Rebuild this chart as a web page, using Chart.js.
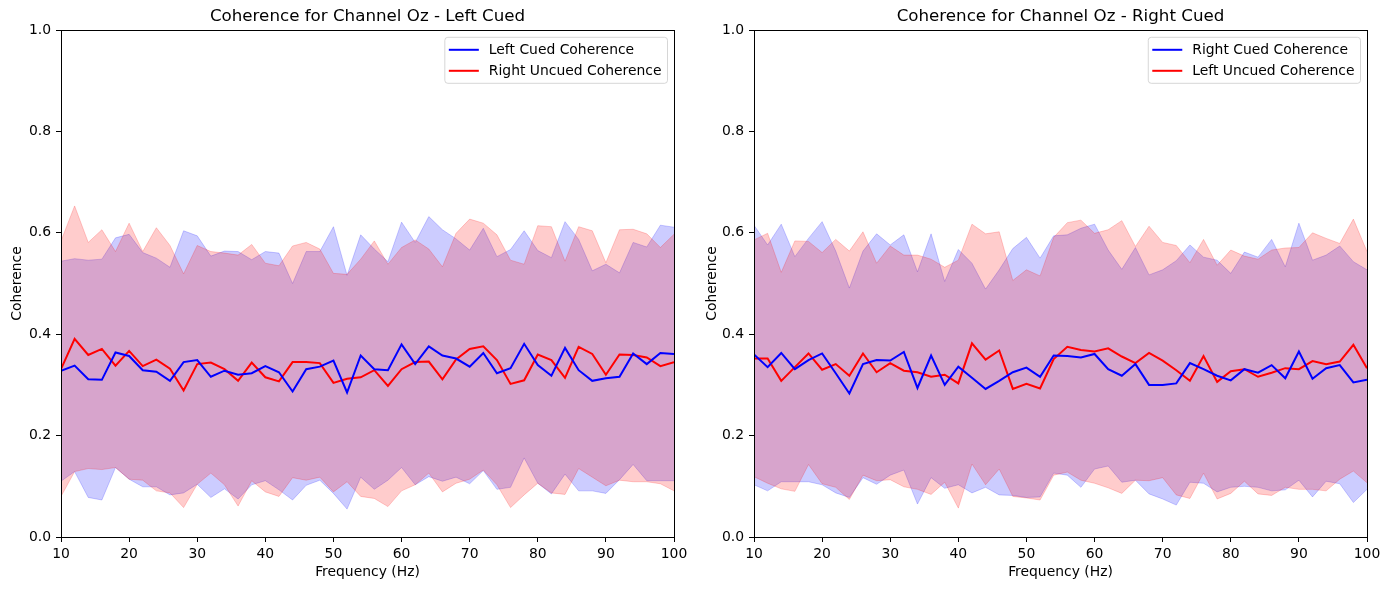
<!DOCTYPE html>
<html>
<head>
<meta charset="utf-8">
<script src="https://cdn.jsdelivr.net/npm/chart.js@4.4.0/dist/chart.umd.min.js"></script>
<style>
  html, body { margin: 0; padding: 0; background: #fff; }
  #wrap { position: relative; width: 1390px; height: 590px; }
  canvas { position: absolute; top: 0; }
</style>
</head>
<body>
<div id="wrap">
  <canvas id="c1" width="695" height="590" style="left:0px;width:695px;height:590px"></canvas>
  <canvas id="c2" width="695" height="590" style="left:695px;width:695px;height:590px"></canvas>
</div>
<script>
const freqs = [10,12,14,16,18,20,22,24,26,28,30,32,34,36,38,40,42,44,46,48,50,52,54,56,58,60,62,64,66,68,70,72,74,76,78,80,82,84,86,88,90,92,94,96,98,100];
const xTicks = [10,20,30,40,50,60,70,80,90,100];
const yTicks = [0.0,0.2,0.4,0.6,0.8,1.0];

const titles = ["Coherence for Channel Oz - Left Cued", "Coherence for Channel Oz - Right Cued"];
const xLabel = "Frequency (Hz)";
const yLabel = "Coherence";
const legendLeft = ["Left Cued Coherence", "Right Uncued Coherence"];
const legendRight = ["Right Cued Coherence", "Left Uncued Coherence"];

// Left plot
const leftCuedMean = [0.328,0.338,0.311,0.310,0.364,0.357,0.329,0.326,0.308,0.345,0.349,0.316,0.328,0.320,0.323,0.337,0.325,0.287,0.331,0.336,0.348,0.285,0.358,0.331,0.329,0.380,0.341,0.376,0.358,0.352,0.336,0.363,0.323,0.333,0.381,0.339,0.318,0.373,0.329,0.308,0.313,0.316,0.362,0.341,0.363,0.361];
const leftCuedUpper = [0.544,0.549,0.546,0.548,0.590,0.597,0.561,0.550,0.532,0.604,0.594,0.554,0.564,0.563,0.547,0.563,0.560,0.500,0.563,0.563,0.612,0.516,0.596,0.568,0.543,0.621,0.581,0.632,0.606,0.588,0.566,0.609,0.553,0.567,0.604,0.565,0.551,0.622,0.587,0.525,0.538,0.521,0.581,0.572,0.615,0.611];
const leftCuedLower = [0.110,0.129,0.078,0.073,0.137,0.114,0.099,0.099,0.083,0.087,0.104,0.078,0.095,0.075,0.103,0.111,0.093,0.073,0.102,0.112,0.086,0.055,0.118,0.094,0.112,0.137,0.103,0.119,0.110,0.118,0.105,0.131,0.094,0.098,0.156,0.106,0.085,0.124,0.091,0.091,0.086,0.113,0.143,0.111,0.111,0.111];
const rightUncuedMean = [0.331,0.391,0.359,0.371,0.338,0.367,0.337,0.350,0.332,0.289,0.341,0.344,0.331,0.308,0.344,0.315,0.307,0.345,0.345,0.343,0.304,0.312,0.315,0.329,0.298,0.331,0.345,0.346,0.311,0.350,0.371,0.376,0.349,0.302,0.309,0.360,0.349,0.314,0.375,0.361,0.320,0.360,0.359,0.354,0.337,0.345];
const rightUncuedUpper = [0.584,0.653,0.581,0.606,0.563,0.619,0.563,0.610,0.575,0.519,0.575,0.563,0.560,0.556,0.577,0.540,0.535,0.574,0.581,0.568,0.520,0.518,0.548,0.584,0.538,0.571,0.586,0.568,0.533,0.599,0.627,0.619,0.596,0.546,0.538,0.614,0.612,0.544,0.612,0.604,0.541,0.606,0.607,0.598,0.571,0.597];
const rightUncuedLower = [0.080,0.129,0.135,0.133,0.137,0.114,0.112,0.091,0.087,0.058,0.104,0.126,0.103,0.061,0.111,0.089,0.080,0.117,0.112,0.118,0.089,0.109,0.080,0.076,0.060,0.091,0.103,0.126,0.089,0.106,0.114,0.132,0.103,0.058,0.083,0.106,0.087,0.084,0.135,0.118,0.101,0.112,0.109,0.109,0.105,0.091];

// Right plot
const rightCuedMean = [0.360,0.335,0.363,0.331,0.349,0.362,0.323,0.283,0.341,0.349,0.348,0.365,0.294,0.358,0.300,0.336,0.314,0.292,0.308,0.325,0.334,0.316,0.358,0.357,0.354,0.361,0.331,0.318,0.341,0.300,0.300,0.303,0.343,0.331,0.318,0.309,0.331,0.324,0.339,0.313,0.366,0.312,0.333,0.339,0.305,0.310];
const rightCuedUpper = [0.615,0.576,0.617,0.553,0.589,0.622,0.564,0.491,0.564,0.598,0.576,0.596,0.523,0.598,0.504,0.567,0.540,0.489,0.527,0.569,0.591,0.550,0.594,0.596,0.609,0.617,0.566,0.528,0.571,0.517,0.527,0.545,0.576,0.552,0.546,0.520,0.562,0.552,0.587,0.533,0.619,0.546,0.556,0.574,0.543,0.527];
const rightCuedLower = [0.103,0.091,0.109,0.109,0.109,0.103,0.087,0.078,0.117,0.104,0.122,0.132,0.065,0.117,0.096,0.103,0.087,0.098,0.083,0.082,0.078,0.079,0.126,0.122,0.098,0.134,0.140,0.108,0.112,0.085,0.075,0.063,0.108,0.106,0.089,0.098,0.100,0.098,0.091,0.093,0.112,0.079,0.110,0.105,0.068,0.094];
const leftUncuedMean = [0.352,0.352,0.308,0.335,0.362,0.330,0.341,0.318,0.362,0.325,0.343,0.328,0.325,0.316,0.320,0.303,0.382,0.350,0.368,0.292,0.302,0.293,0.351,0.375,0.369,0.366,0.372,0.356,0.343,0.363,0.348,0.329,0.308,0.357,0.306,0.327,0.331,0.316,0.324,0.333,0.331,0.347,0.341,0.346,0.379,0.333];
const leftUncuedUpper = [0.586,0.599,0.522,0.584,0.583,0.561,0.587,0.564,0.602,0.540,0.574,0.556,0.556,0.548,0.532,0.546,0.617,0.598,0.602,0.506,0.527,0.515,0.591,0.620,0.625,0.599,0.606,0.624,0.573,0.613,0.581,0.575,0.541,0.587,0.536,0.566,0.554,0.548,0.566,0.570,0.571,0.600,0.589,0.579,0.627,0.563];
const leftUncuedLower = [0.119,0.106,0.095,0.090,0.143,0.105,0.098,0.074,0.122,0.111,0.113,0.099,0.094,0.084,0.108,0.057,0.144,0.103,0.134,0.080,0.077,0.073,0.122,0.128,0.112,0.106,0.097,0.086,0.112,0.111,0.117,0.083,0.076,0.126,0.075,0.086,0.110,0.085,0.082,0.098,0.094,0.094,0.091,0.114,0.130,0.107];

const FONT = "'DejaVu Sans', sans-serif";
const BLUE = '#0000ff', RED = '#ff0000';
const BLUE_BAND = 'rgba(0,0,255,0.2)', RED_BAND = 'rgba(255,0,0,0.2)';

function pts(vals) { return freqs.map((f, i) => ({x: f, y: vals[i]})); }

function frameAndTextPlugin(title, legendLabels) {
  return {
    id: 'frameText',
    afterDraw(chart) {
      const ctx = chart.ctx, a = chart.chartArea;
      ctx.save();
      ctx.strokeStyle = '#000';
      ctx.lineWidth = 1;
      ctx.strokeRect(Math.round(a.left) + 0.5, Math.round(a.top) + 0.5, Math.round(a.right - a.left), Math.round(a.bottom - a.top));
      ctx.fillStyle = '#000';
      ctx.font = '16.7px ' + FONT;
      ctx.textAlign = 'center';
      ctx.textBaseline = 'middle';
      ctx.fillText(title, (a.left + a.right) / 2, 17);
      ctx.font = '13.9px ' + FONT;
      const tw = Math.max(...legendLabels.map(t => ctx.measureText(t).width));
      const bw = 44 + tw + 6, bh = 46;
      const bx = a.right - 6.5 - bw, by = a.top + 7.3;
      ctx.beginPath();
      if (ctx.roundRect) ctx.roundRect(bx, by, bw, bh, 3); else ctx.rect(bx, by, bw, bh);
      ctx.fillStyle = 'rgba(255,255,255,0.8)';
      ctx.fill();
      ctx.strokeStyle = 'rgba(204,204,204,0.8)';
      ctx.lineWidth = 1;
      ctx.stroke();
      const colors = [BLUE, RED];
      legendLabels.forEach((t, i) => {
        const cy = by + 12.5 + i * 21;
        ctx.strokeStyle = colors[i];
        ctx.lineWidth = 2;
        ctx.beginPath();
        ctx.moveTo(bx + 4, cy);
        ctx.lineTo(bx + 34, cy);
        ctx.stroke();
        ctx.fillStyle = '#000';
        ctx.textAlign = 'left';
        ctx.textBaseline = 'middle';
        ctx.fillText(t, bx + 44, cy + 0.5);
      });
      ctx.restore();
    }
  };
}

function makeChart(id, yAxisWidth, rightPad, title, legendLabels, bMean, bUp, bLo, rMean, rUp, rLo) {
  const lineDs = (data, color) => ({data: pts(data), borderColor: color, borderWidth: 2, pointRadius: 0, fill: false, tension: 0});
  const bandUp = (data, color) => ({data: pts(data), borderColor: color, backgroundColor: color, borderWidth: 1, pointRadius: 0, fill: '+1', tension: 0});
  const bandLo = (data, color) => ({data: pts(data), borderColor: color, borderWidth: 1, pointRadius: 0, fill: false, tension: 0});
  return new Chart(document.getElementById(id), {
    type: 'line',
    data: {
      datasets: [
        lineDs(bMean, BLUE),
        lineDs(rMean, RED),
        bandUp(rUp, RED_BAND),
        bandLo(rLo, RED_BAND),
        bandUp(bUp, BLUE_BAND),
        bandLo(bLo, BLUE_BAND)
      ]
    },
    options: {
      responsive: false,
      animation: false,
      devicePixelRatio: 1,
      layout: {padding: {top: 30, right: rightPad, left: 0, bottom: 0}},
      plugins: {legend: {display: false}, title: {display: false}, tooltip: {enabled: false}},
      scales: {
        x: {
          type: 'linear', min: 10, max: 100,
          afterBuildTicks: s => { s.ticks = xTicks.map(v => ({value: v})); },
          afterFit: s => { s.height = 53; },
          grid: {drawOnChartArea: false, drawTicks: true, tickLength: 5, color: '#000', tickColor: '#000'},
          border: {display: true, color: '#000', width: 1},
          ticks: {color: '#000', font: {family: FONT, size: 13.9}, padding: 4, maxRotation: 0, autoSkip: false},
          title: {display: true, text: xLabel, color: '#000', font: {family: FONT, size: 13.9}, padding: {top: 0, bottom: 9}}
        },
        y: {
          type: 'linear', min: 0, max: 1,
          afterBuildTicks: s => { s.ticks = yTicks.map(v => ({value: v})); },
          afterFit: s => { s.width = yAxisWidth; },
          grid: {drawOnChartArea: false, drawTicks: true, tickLength: 5, color: '#000', tickColor: '#000'},
          border: {display: true, color: '#000', width: 1},
          ticks: {color: '#000', font: {family: FONT, size: 13.9}, padding: 5, callback: v => Number(v).toFixed(1)},
          title: {display: true, text: yLabel, color: '#000', font: {family: FONT, size: 13.9}, padding: {top: 9, bottom: 0}}
        }
      }
    },
    plugins: [frameAndTextPlugin(title, legendLabels)]
  });
}

makeChart('c1', 61, 21, titles[0], legendLeft, leftCuedMean, leftCuedUpper, leftCuedLower, rightUncuedMean, rightUncuedUpper, rightUncuedLower);
makeChart('c2', 59, 23, titles[1], legendRight, rightCuedMean, rightCuedUpper, rightCuedLower, leftUncuedMean, leftUncuedUpper, leftUncuedLower);
</script>
</body>
</html>
